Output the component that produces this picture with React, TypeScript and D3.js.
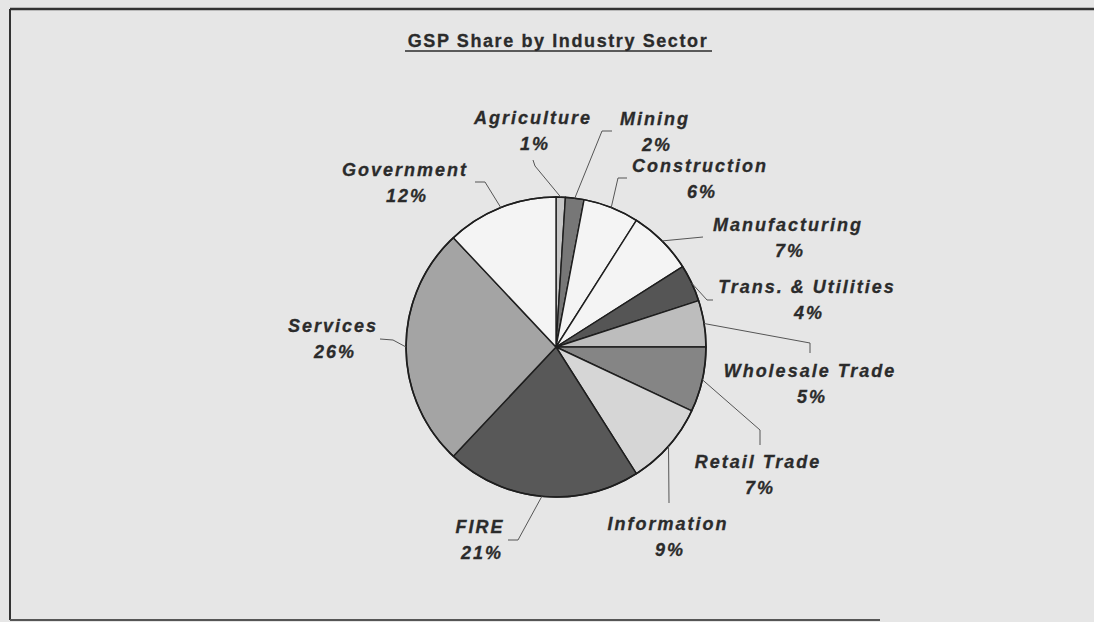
import React from "react";
import * as d3 from "d3";

// GSP share by industry sector (percent), clockwise from 12 o'clock
const sectors = [
  "Agriculture",
  "Mining",
  "Construction",
  "Manufacturing",
  "Trans. & Utilities",
  "Wholesale Trade",
  "Retail Trade",
  "Information",
  "FIRE",
  "Services",
  "Government",
];
const shares = [1, 2, 6, 7, 4, 5, 7, 9, 21, 26, 12];
const fills = [
  "#c6c6c6",
  "#777777",
  "#f4f4f4",
  "#f4f4f4",
  "#555555",
  "#bdbdbd",
  "#858585",
  "#d6d6d6",
  "#585858",
  "#a4a4a4",
  "#f4f4f4",
];

// label layout: name centre x, name baseline y
const labelAt: [number, number][] = [
  [533, 124],
  [655, 125],
  [700, 172],
  [788, 231],
  [807, 293],
  [810, 377],
  [758, 468],
  [668, 530],
  [480, 533],
  [333, 332],
  [405, 176],
];
// leader line: elbow, end
const leaderAt: [number, number][][] = [
  [[535, 166], [533, 160]],
  [[602, 131], [612, 131]],
  [[618, 178], [627, 178]],
  [[703, 237], [703, 237]],
  [[707, 300], [713, 300]],
  [[810, 343], [810, 353]],
  [[760, 430], [760, 445]],
  [[669, 503], [669, 503]],
  [[518, 540], [508, 540]],
  [[393, 340], [380, 339]],
  [[485, 182], [475, 182]],
];

const W = 1094;
const H = 622;
const cx = 556;
const cy = 347;
const R = 150;
const ink = "#2b2b2b";

export default function App() {
  const rows = sectors.map((s, i) => ({ name: s, value: shares[i], i }));
  const pie = d3
    .pie<any>()
    .value((d) => d.value)
    .sort(null)
    .startAngle(0)
    .endAngle(2 * Math.PI);
  const arcs = pie(rows);
  const arc = d3.arc<any>().innerRadius(0).outerRadius(R);
  const edge = d3.arc<any>().innerRadius(R).outerRadius(R);
  const line = d3.line();

  return (
    <div style={{ position: "absolute", left: 0, top: 0 }}>
      <svg width={W} height={H} style={{ display: "block" }}>
        <rect width={W} height={H} fill="#e6e6e6" />
        {/* frame */}
        <line x1={10} y1={9} x2={W} y2={9} stroke="#333" strokeWidth={2.5} />
        <line x1={10} y1={9} x2={10} y2={620} stroke="#333" strokeWidth={2} />
        <line x1={10} y1={620} x2={880} y2={620} stroke="#555" strokeWidth={2} />

        <text
          x={cx + 2}
          y={47}
          textAnchor="middle"
          fill={ink}
          stroke={ink}
          strokeWidth={0.3}
          style={{
            fontFamily: "'Liberation Sans', Arial, sans-serif",
            fontWeight: 700,
            fontSize: 18,
            letterSpacing: 1.6,
          }}
        >
          GSP Share by Industry Sector
        </text>
        <line x1={405} y1={51} x2={712} y2={51} stroke={ink} strokeWidth={1.5} />

        <g transform={`translate(${cx},${cy})`}>
          {arcs.map((a) => (
            <path
              key={a.data.name}
              d={arc(a) as string}
              fill={fills[a.data.i]}
              stroke="#1e1e1e"
              strokeWidth={1.4}
              strokeLinejoin="round"
            />
          ))}
          <circle r={R} fill="none" stroke="#1e1e1e" strokeWidth={1.7} />
        </g>

        {arcs.map((a) => {
          const [ex, ey] = edge.centroid(a);
          const pts: [number, number][] = [
            [cx + ex, cy + ey],
            ...leaderAt[a.data.i],
          ];
          return (
            <path
              key={"l" + a.data.name}
              d={line(pts) as string}
              fill="none"
              stroke="#555"
              strokeWidth={1}
            />
          );
        })}

        {arcs.map((a) => {
          const [lx, ly] = labelAt[a.data.i];
          return (
            <text
              key={"t" + a.data.name}
              textAnchor="middle"
              fill={ink}
              stroke={ink}
              strokeWidth={0.3}
              style={{
                fontFamily: "'Liberation Sans', Arial, sans-serif",
                fontWeight: 700,
                fontStyle: "italic",
                fontSize: 18,
                letterSpacing: 2,
              }}
            >
              <tspan x={lx} y={ly}>
                {a.data.name}
              </tspan>
              <tspan x={lx + 2} y={ly + 26}>
                {`${a.data.value}%`}
              </tspan>
            </text>
          );
        })}
      </svg>
    </div>
  );
}
